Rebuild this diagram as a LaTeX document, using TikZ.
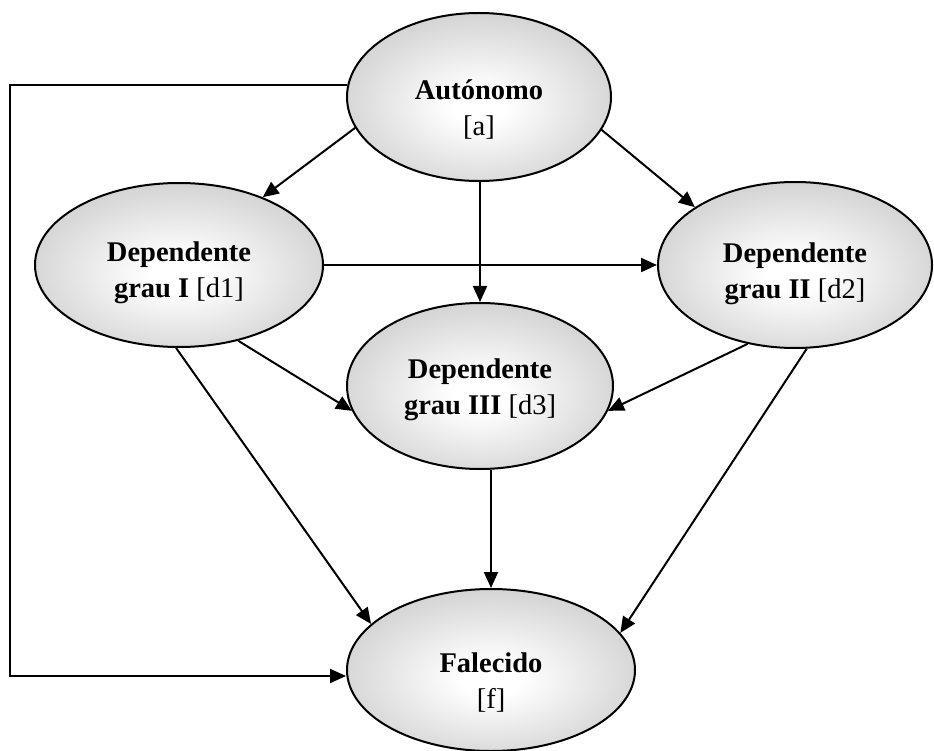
\documentclass[tikz,border=0pt]{standalone}
\usepackage{fontspec}
\setmainfont{Liberation Serif}
\usetikzlibrary{shapes.geometric,arrows.meta}

% soft grey fill, white in the middle
\definecolor{stateedge}{RGB}{170,170,170}
\pgfdeclareradialshading{stateshade}{\pgfpoint{0bp}{-3bp}}{%
  color(0bp)=(white); color(5bp)=(white); color(48bp)=(stateedge); color(72bp)=(stateedge)}

% taller first line, so the text sits a little below the middle
\newcommand\toplift[1]{\rule{0pt}{#1}}

\tikzset{
  state/.style={ellipse, draw, line width=2pt, shading=stateshade,
    inner sep=0pt, align=center, font=\fontsize{28.5}{36}\selectfont},
  flow/.style={line width=2pt, -{Triangle[length=16pt,width=14pt]}},
}

\begin{document}
\begin{tikzpicture}[x=1pt,y=-1pt]
\useasboundingbox (0,0) rectangle (934,751);

% states
\node[state, minimum width=264pt, minimum height=168pt] (a)  at (479,97)
  {\toplift{44pt}\textbf{Autónomo}\\{}[a]};
\node[state, minimum width=288pt, minimum height=164pt] (d1) at (179,265)
  {\toplift{36pt}\textbf{Dependente}\\\textbf{grau I} [d1]};
\node[state, minimum width=274pt, minimum height=166pt] (d2) at (795,265)
  {\toplift{38pt}\textbf{Dependente}\\\textbf{grau II} [d2]};
\node[state, minimum width=266pt, minimum height=166pt] (d3) at (480,386)
  {\toplift{28pt}\textbf{Dependente}\\\textbf{grau III} [d3]};
\node[state, minimum width=288pt, minimum height=162pt] (f)  at (491,670)
  {\toplift{44pt}\textbf{Falecido}\\{}[f]};

% transitions
\draw[flow] (a.194) -- (d1.39.7);
\draw[flow] (a.345) -- (d2.150.8);
\draw[flow] (a.south -| d3.north) -- (d3.north);
\draw[flow] (d1.east) -- (d2.west);
\draw[flow] (d1.308.4) -- (d3.191.2);
\draw[flow] (d2.239.3) -- (d3.349.6);
\draw[flow] (d1.268.6) -- (f.159.9);
\draw[flow] (d3.south -| f.north) -- (f.north);
\draw[flow] (d2.278.7) -- (f.16.8);

% direct path from autonomous to deceased, around the left side
\coordinate (loopbottom) at (10,676);
\draw[flow] (a.175) -- (a.175 -| loopbottom) -- (loopbottom) -- (loopbottom -| f.west);
\end{tikzpicture}
\end{document}
